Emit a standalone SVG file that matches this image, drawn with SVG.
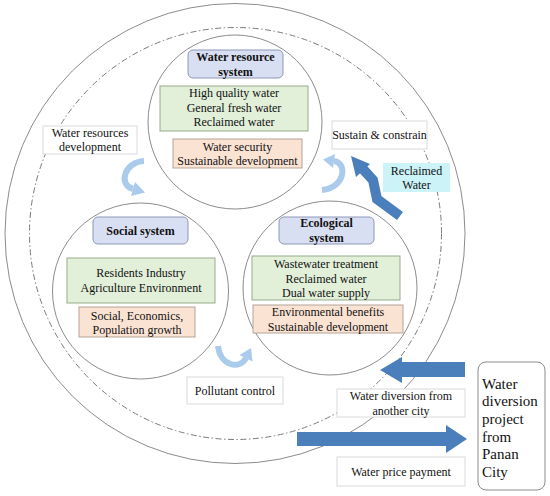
<svg xmlns="http://www.w3.org/2000/svg" width="550" height="496" viewBox="0 0 550 496">
<style>
text{font-family:"Liberation Serif","Times New Roman",serif;font-size:12px;fill:#111;text-anchor:middle}
.b{font-weight:bold}
.ring{fill:none;stroke:#8c8c8c;stroke-width:1}
.dash{fill:none;stroke:#7a7a7a;stroke-width:1;stroke-dasharray:6 2.5 1.5 2.5}
.sys{fill:#fff;stroke:#8c8c8c;stroke-width:1}
.title{fill:#d9dff2;stroke:#8d98b6;stroke-width:1}
.green{fill:#e2efd9;stroke:#98ab8b;stroke-width:1}
.orange{fill:#fbe3d4;stroke:#b3a495;stroke-width:1}
.white{fill:#fff;stroke:#dadada;stroke-width:1}
.cyan{fill:#ccf3f8;stroke:none}
.lb{fill:none;stroke:#abcbec;stroke-width:6}
.lbh{fill:#abcbec}
.dk{fill:#4a7fbc}
</style>
<g id="rings">
<circle class="ring" cx="235" cy="233.5" r="230"/>
<circle class="dash" cx="235.5" cy="233.5" r="206"/>
</g>
<g id="water-resource-system">
<circle class="sys" cx="235" cy="122" r="87"/>
<rect class="title" x="188" y="50" width="95" height="28" rx="5"/>
<text class="b" x="235.5" y="61">Water resource</text>
<text class="b" x="235.5" y="75.5">system</text>
<rect class="green" x="160" y="86" width="148" height="45"/>
<text x="234" y="97">High quality water</text>
<text x="234" y="111.5">General fresh water</text>
<text x="234" y="126">Reclaimed water</text>
<rect class="orange" x="173" y="139" width="129" height="29"/>
<text x="237.5" y="151">Water security</text>
<text x="237.5" y="165">Sustainable development</text>
</g>
<g id="social-system">
<circle class="sys" cx="140.5" cy="291" r="88"/>
<rect class="title" x="93" y="217" width="95" height="27" rx="5"/>
<text class="b" x="140.5" y="235">Social system</text>
<rect class="green" x="67" y="258" width="148" height="45"/>
<text x="141" y="277">Residents Industry</text>
<text x="141" y="292">Agriculture Environment</text>
<rect class="orange" x="79" y="307" width="116" height="30"/>
<text x="137" y="320">Social, Economics,</text>
<text x="137" y="334">Population growth</text>
</g>
<g id="ecological-system">
<circle class="sys" cx="330" cy="288" r="87"/>
<rect class="title" x="279" y="217" width="95" height="27" rx="5"/>
<text class="b" x="326.5" y="227">Ecological</text>
<text class="b" x="326.5" y="242">system</text>
<rect class="green" x="252" y="256" width="148" height="44"/>
<text x="326" y="268">Wastewater treatment</text>
<text x="326" y="282.5">Reclaimed water</text>
<text x="326" y="297">Dual water supply</text>
<rect class="orange" x="253" y="305" width="150" height="28"/>
<text x="328" y="316">Environmental benefits</text>
<text x="328" y="331">Sustainable development</text>
</g>
<g id="label-water-resources-development">
<rect class="white" x="43" y="126" width="94" height="28"/>
<text x="90" y="137">Water resources</text>
<text x="90" y="151">development</text>
</g>
<g id="label-sustain">
<rect class="white" x="332" y="121" width="95" height="28"/>
<text x="379.5" y="139">Sustain &amp; constrain</text>
</g>
<g id="label-reclaimed-water">
<rect class="cyan" x="383" y="163" width="67" height="29"/>
<text x="416.5" y="175">Reclaimed</text>
<text x="416.5" y="189">Water</text>
</g>
<g id="label-pollutant">
<rect class="white" x="187" y="377" width="96" height="27"/>
<text x="235" y="395">Pollutant control</text>
</g>
<g id="label-water-diversion">
<rect class="white" x="337" y="389" width="128" height="28"/>
<text x="401" y="400">Water diversion from</text>
<text x="401" y="415">another city</text>
</g>
<g id="label-water-price">
<rect class="white" x="337" y="457" width="128" height="29"/>
<text x="401" y="475.5">Water price payment</text>
</g>
<g id="panan-project">
<rect x="478" y="362" width="67" height="128" rx="8" fill="#fff" stroke="#8c8c8c" stroke-width="1"/>
<text x="482" y="388.5" style="text-anchor:start;font-size:15px">Water</text>
<text x="482" y="406.2" style="text-anchor:start;font-size:15px">diversion</text>
<text x="482" y="423.9" style="text-anchor:start;font-size:15px">project</text>
<text x="482" y="441.6" style="text-anchor:start;font-size:15px">from</text>
<text x="482" y="459.3" style="text-anchor:start;font-size:15px">Panan</text>
<text x="482" y="477" style="text-anchor:start;font-size:15px">City</text>
</g>
<g id="connectors">
<path class="lb" d="M144,161 C124,162 118,185 133,189"/>
<polygon class="lbh" points="145,192.5 131,196 135,182"/>
<path class="lb" d="M218,346 C220,366 240,370 246,358"/>
<polygon class="lbh" points="251,348 252.5,361.5 239.5,355"/>
<path class="lb" d="M322,190 C345,188 348,163 334,161"/>
<polygon class="lbh" points="323,159.5 335,154 333,168"/>
<polyline points="400,216 377,199 373,180 362,168" fill="none" stroke="#4a7fbc" stroke-width="10" stroke-linejoin="miter"/>
<polygon class="dk" points="351,156 370,164 356,177"/>
<polygon class="dk" points="380,370 402,357 402,362 465,362 465,377 402,377 402,383"/>
<polygon class="dk" points="297,432 446,432 446,425 467,439 446,453 446,446 297,446"/>
</g>
</svg>
